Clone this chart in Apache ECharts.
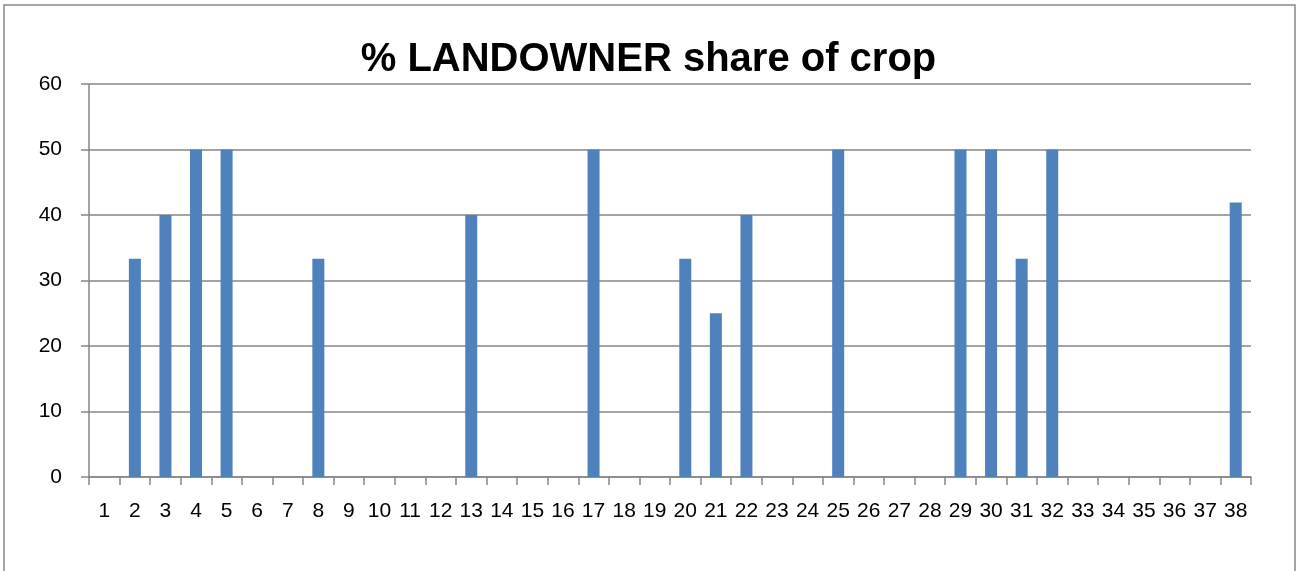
<!DOCTYPE html>
<html>
<head>
<meta charset="utf-8">
<script src="https://cdn.jsdelivr.net/npm/echarts@6/dist/echarts.min.js"></script>
<style>
  html, body { margin: 0; padding: 0; background: #fff; }
  #chart { width: 1297px; height: 571px; }
</style>
</head>
<body>
<div id="chart"></div>
<script>
// plot numbers 1..38
const categories = []
for (let i = 1; i <= 38; i++) categories.push(String(i))

// % landowner share (0 = no bar)
const shareValues = [
  0, 33.33, 40, 50, 50, 0, 0, 33.33, 0, 0,
  0, 0, 40, 0, 0, 0, 50, 0, 0, 33.33,
  25, 40, 0, 0, 50, 0, 0, 0, 50, 50,
  33.33, 50, 0, 0, 0, 0, 0, 41.9
]

const yTicks = [0, 10, 20, 30, 40, 50, 60]

const chart = echarts.init(document.getElementById('chart'))

chart.setOption({
  animation: false,
  textStyle: { fontFamily: 'Liberation Sans' },
  title: {
    text: '% LANDOWNER share of crop',
    left: 'center',
    top: 35,
    textStyle: {
      fontFamily: 'Liberation Sans',
      fontSize: 40,
      fontWeight: 'bold',
      color: '#000'
    }
  },
  graphic: [{
    type: 'rect',
    shape: { x: 4, y: 5, width: 1291, height: 580 },
    style: { fill: 'none', stroke: '#888', lineWidth: 1.5 },
    silent: true
  }],
  grid: {
    left: 89,
    right: 46,
    top: 84,
    bottom: 94
  },
  xAxis: {
    type: 'category',
    data: categories,
    axisLine: { lineStyle: { color: '#868686', width: 1.5 } },
    axisTick: { show: true, length: 8, lineStyle: { color: '#868686', width: 1.5 } },
    axisLabel: { interval: 0, color: '#000', fontSize: 21, margin: 24 },
    splitLine: { show: false }
  },
  yAxis: {
    type: 'value',
    min: yTicks[0],
    max: yTicks[yTicks.length - 1],
    interval: 10,
    axisLine: { show: true, lineStyle: { color: '#868686', width: 1.5 } },
    axisTick: { show: true, length: 8, lineStyle: { color: '#868686', width: 1.5 } },
    axisLabel: { color: '#000', fontSize: 21, margin: 27 },
    splitLine: { lineStyle: { color: '#868686', width: 1.5 } }
  },
  series: [{
    name: '% LANDOWNER share of crop',
    type: 'bar',
    data: shareValues,
    barWidth: 12,
    itemStyle: { color: '#4F81BD' }
  }]
})
</script>
</body>
</html>
